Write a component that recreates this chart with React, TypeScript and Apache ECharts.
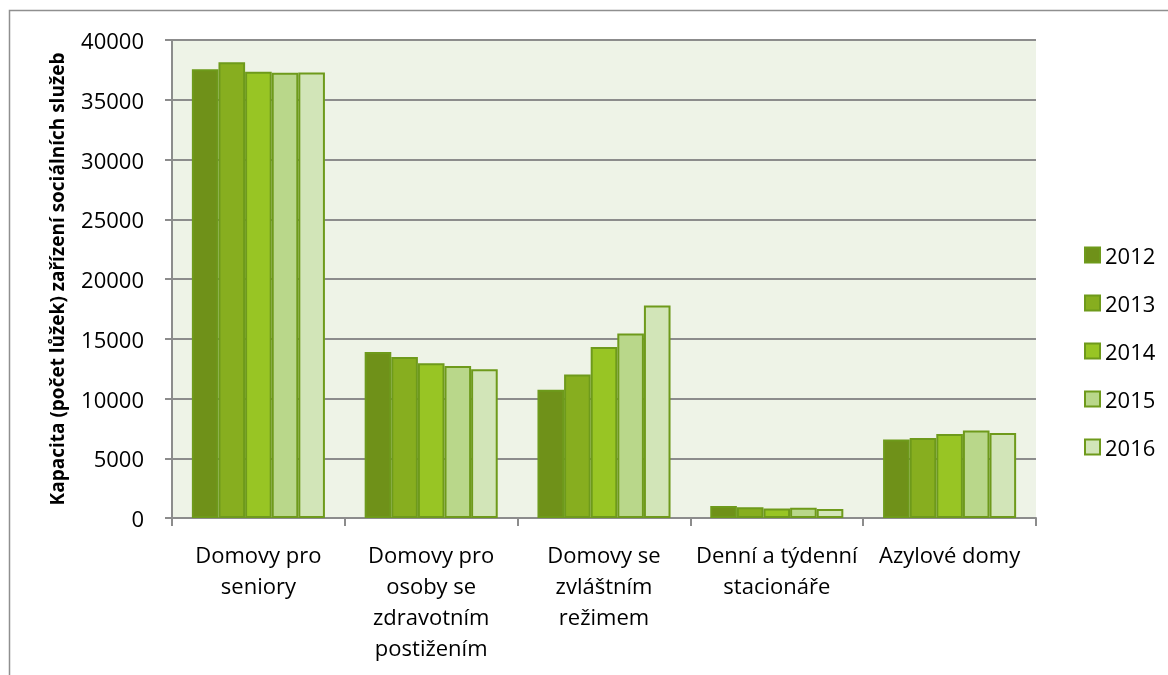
import React, { useEffect, useRef } from "react";
import * as echarts from "echarts";

const categories = [
  "Domovy pro\nseniory",
  "Domovy pro\nosoby se\nzdravotním\npostižením",
  "Domovy se\nzvláštním\nrežimem",
  "Denní a týdenní\nstacionáře",
  "Azylové domy",
];
const years = ["2012", "2013", "2014", "2015", "2016"];
const values2012 = [37550, 13900, 10730, 1000, 6570];
const values2013 = [38130, 13470, 12000, 900, 6690];
const values2014 = [37350, 12940, 14320, 800, 7020];
const values2015 = [37260, 12720, 15430, 850, 7330];
const values2016 = [37280, 12440, 17780, 760, 7110];
const yTicks = { min: 0, max: 40000, interval: 5000 };
const yTitle = "Kapacita (počet lůžek) zařízení sociálních služeb";

const seriesValues = [values2012, values2013, values2014, values2015, values2016];
const fills = ["#6f9119", "#87ae1f", "#98c524", "#b9d78a", "#d2e5b8"];
const border = "#6e9a1b";
const FONT = "'Open Sans', 'Noto Sans', sans-serif";

export default function App() {
  const ref = useRef<HTMLDivElement>(null);
  useEffect(() => {
    if (!ref.current) return;
    const chart = echarts.init(ref.current, null, { renderer: "svg" });
    chart.setOption({
      animation: false,
      textStyle: { fontFamily: FONT, color: "#000" },
      graphic: [
        {
          type: "rect",
          silent: true,
          z: -10,
          shape: { x: 9.5, y: 10.5, width: 1300, height: 800 },
          style: { fill: "#ffffff", stroke: "#8f8f8f", lineWidth: 1.5 },
        },
      ],
      grid: {
        left: 172,
        right: 132,
        top: 40,
        bottom: 157,
        show: true,
        backgroundColor: "#eef3e7",
        borderWidth: 0,
      },
      legend: {
        orient: "vertical",
        left: 1079,
        top: 239,
        itemWidth: 15,
        itemHeight: 15,
        itemGap: 26,
        icon: "rect",
        textStyle: { fontFamily: FONT, fontSize: 22, color: "#000", lineHeight: 22 },
        data: years,
      },
      xAxis: {
        type: "category",
        data: categories,
        axisLine: { lineStyle: { color: "#8c8c8c", width: 2 } },
        axisTick: { show: true, length: 8, lineStyle: { color: "#8c8c8c", width: 2 } },
        axisLabel: {
          fontFamily: FONT,
          fontSize: 22,
          color: "#000",
          lineHeight: 31,
          margin: 20,
          interval: 0,
        },
      },
      yAxis: {
        type: "value",
        min: yTicks.min,
        max: yTicks.max,
        interval: yTicks.interval,
        name: yTitle,
        nameLocation: "middle",
        nameGap: 106,
        nameTextStyle: { fontFamily: FONT, fontSize: 19, fontWeight: "bold", color: "#000" },
        axisLine: { show: true, lineStyle: { color: "#8c8c8c", width: 2 } },
        axisTick: { show: true, length: 7, lineStyle: { color: "#8c8c8c", width: 2 } },
        axisLabel: {
          fontFamily: FONT,
          fontSize: 22,
          color: "#000",
          margin: 28,
          formatter: (v: number) => String(v),
        },
        splitLine: { lineStyle: { color: "#8c8c8c", width: 2 } },
      },
      series: years.map((y, i) => ({
        name: y,
        type: "bar",
        data: seriesValues[i],
        barGap: "0%",
        barCategoryGap: "23%",
        itemStyle: { color: fills[i], borderColor: border, borderWidth: 2 },
      })),
    });
    return () => chart.dispose();
  }, []);
  return (
    <div
      ref={ref}
      style={{ position: "fixed", left: 0, top: 0, width: 1168, height: 675 }}
    />
  );
}
